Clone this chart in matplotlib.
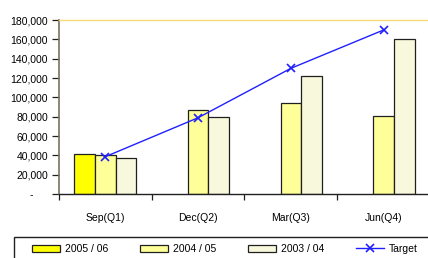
import matplotlib
matplotlib.use("Agg")
import matplotlib.pyplot as plt
import numpy as np
from matplotlib.patches import Patch, Rectangle
from matplotlib.lines import Line2D

categories = ["Sep(Q1)", "Dec(Q2)", "Mar(Q3)", "Jun(Q4)"]
s2005 = [41700, np.nan, np.nan, np.nan]
s2004 = [40300, 86900, 94500, 81000]
s2003 = [36900, 80000, 122400, 160300]
target = [38600, 78900, 130000, 169700]
yticks = [0, 20000, 40000, 60000, 80000, 100000, 120000, 140000, 160000, 180000]
ytick_labels = ["-     ", "20,000", "40,000", "60,000", "80,000", "100,000",
                "120,000", "140,000", "160,000", "180,000"]
series_names = ["2005 / 06", "2004 / 05", "2003 / 04", "Target"]
colors = ["#FFFF00", "#FFFF99", "#F8F8DC"]

plt.rcParams['font.family'] = ['Liberation Sans', 'DejaVu Sans']
fs = 7.5

W, H = 428, 258
fig = plt.figure(figsize=(W / 100, H / 100), dpi=100)
ax = fig.add_axes([59 / W, (H - 194) / H, (430 - 59) / W, (194 - 20) / H])

x = np.arange(len(categories))
bw = 0.223
ax.bar(x - bw, s2005, bw, color=colors[0], edgecolor="#202020", linewidth=0.9, zorder=2)
ax.bar(x, s2004, bw, color=colors[1], edgecolor="#202020", linewidth=0.9, zorder=2)
ax.bar(x + bw, s2003, bw, color=colors[2], edgecolor="#202020", linewidth=0.9, zorder=2)
ax.plot(x, target, color="#2020FF", linewidth=1.0, marker="x", markersize=6,
        markeredgewidth=1.2, zorder=3)

ax.set_xlim(-0.5, len(categories) - 0.5)
ax.set_ylim(0, 180000)
ax.set_yticks(yticks)
ax.set_yticklabels(ytick_labels, fontsize=fs)
ax.set_xticks(x)
ax.set_xticklabels(categories, fontsize=fs)
ax.tick_params(axis="x", length=0, pad=14)
ax.set_xticks(np.arange(len(categories) + 1) - 0.5, minor=True)
ax.tick_params(axis="x", which="minor", length=4, width=0.9, direction="out", color="#202020")
ax.tick_params(axis="y", length=5, width=0.9, direction="out", color="#202020", pad=3)

ax.spines["right"].set_visible(False)
ax.spines["top"].set_color("#F5D97A")
ax.spines["top"].set_linewidth(1.0)
ax.spines["left"].set_color("#7A7260")
ax.spines["left"].set_linewidth(1.2)
ax.spines["bottom"].set_color("#202020")
ax.spines["bottom"].set_linewidth(1.0)

# legend frame
fig.patches.append(Rectangle((14 / W, -0.1), 1.2, (H - 237) / H + 0.1,
                             transform=fig.transFigure, fill=False,
                             edgecolor="#202020", linewidth=1.0))
handles = [Patch(facecolor=colors[0], edgecolor="#202020", linewidth=0.9),
           Patch(facecolor=colors[1], edgecolor="#202020", linewidth=0.9),
           Patch(facecolor=colors[2], edgecolor="#202020", linewidth=0.9),
           Line2D([], [], color="#2020FF", marker="x", markersize=6, linewidth=1.0,
                  markeredgewidth=1.2)]
fig.legend(handles, series_names, loc="center left",
           bbox_to_anchor=(32 / W, (H - 249) / H), ncol=4, frameon=False,
           fontsize=fs, handlelength=2.7, handleheight=0.75, handletextpad=0.5,
           columnspacing=3.0, borderaxespad=0, borderpad=0)

fig.savefig("out.png", dpi=100)
